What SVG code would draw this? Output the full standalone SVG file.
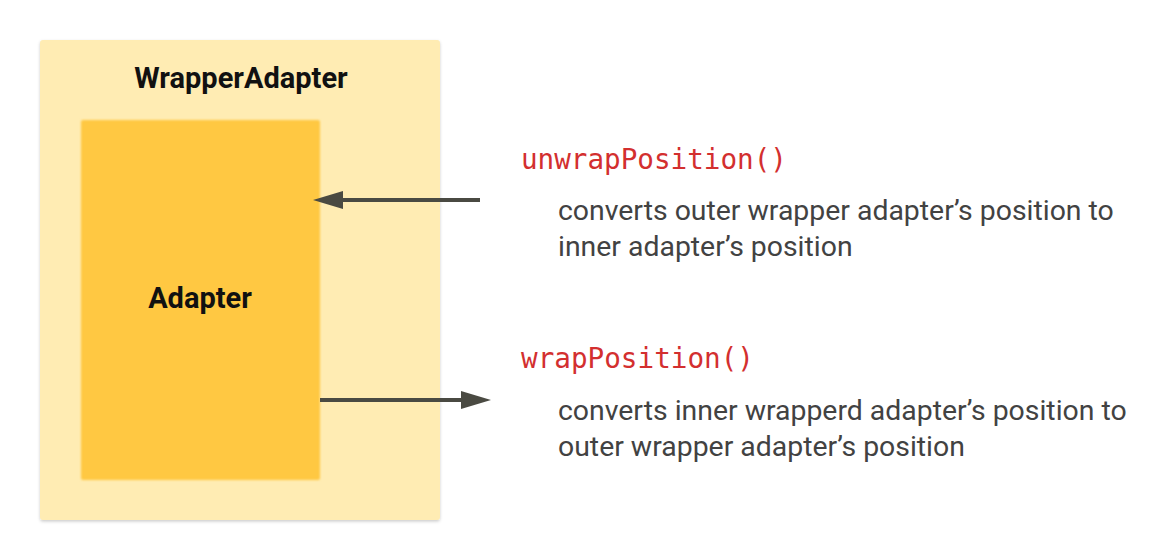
<svg xmlns="http://www.w3.org/2000/svg" width="1160" height="560" viewBox="0 0 1160 560">
<defs>
<style>
.title{font-family:Roboto,"Liberation Sans",sans-serif;font-weight:bold;font-size:29px;fill:#111;text-anchor:middle}
.code{font-family:"DejaVu Sans Mono","Liberation Mono",monospace;font-size:28.5px;fill:#D32F2F}
.desc{font-family:Roboto,"Liberation Sans",sans-serif;font-size:28.4px;fill:#424242}
.conn{stroke:#4a4a42;stroke-width:4;fill:none}
</style>
<filter id="sh" x="-5%" y="-5%" width="110%" height="110%">
<feDropShadow dx="0" dy="1.5" stdDeviation="1.5" flood-color="#000" flood-opacity="0.2"/>
</filter>
<filter id="blur" x="-5%" y="-5%" width="110%" height="110%">
<feGaussianBlur stdDeviation="1.2"/>
</filter>
</defs>
<rect width="1160" height="560" fill="#fff"/>
<g id="wrapper">
<rect x="40" y="40" width="400" height="480" rx="3" fill="#FFECB3" filter="url(#sh)"/>
<text class="title" x="241" y="88">WrapperAdapter</text>
</g>
<g id="adapter">
<rect x="81" y="120" width="239" height="360" rx="2" fill="#FFC843" filter="url(#blur)"/>
<text class="title" x="200" y="308">Adapter</text>
</g>
<g id="connectors">
<line class="conn" x1="480" y1="200" x2="343" y2="200"/>
<path d="M313,200 L343,191 L343,209 z" fill="#4a4a42"/>
<line class="conn" x1="320" y1="400" x2="462" y2="400"/>
<path d="M491,400 L461,391 L461,409 z" fill="#4a4a42"/>
</g>
<g id="unwrap">
<text class="code" x="521" y="169" textLength="266" lengthAdjust="spacingAndGlyphs">unwrapPosition()</text>
<text class="desc" x="558" y="220">converts outer wrapper adapter’s position to</text>
<text class="desc" x="558" y="256">inner adapter’s position</text>
</g>
<g id="wrap">
<text class="code" x="521" y="368" textLength="233" lengthAdjust="spacingAndGlyphs">wrapPosition()</text>
<text class="desc" x="558" y="420">converts inner wrapperd adapter’s position to</text>
<text class="desc" x="558" y="456">outer wrapper adapter’s position</text>
</g>
</svg>
